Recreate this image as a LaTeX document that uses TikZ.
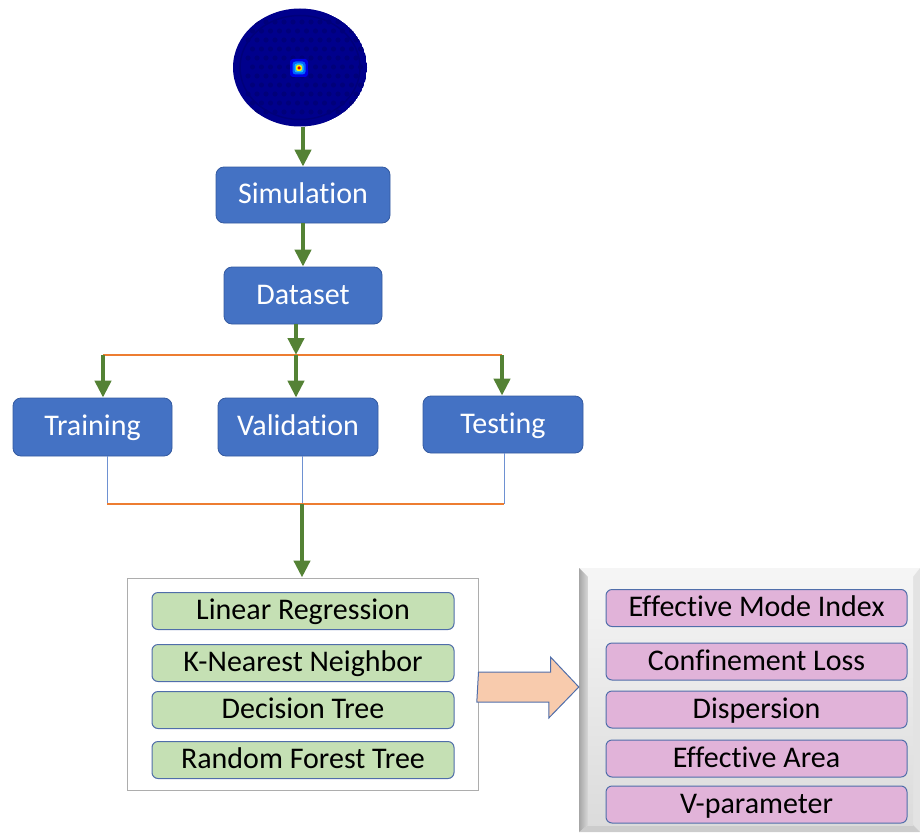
\documentclass[tikz,border=0pt]{standalone}
\usepackage{fontspec}
\setmainfont{Carlito}[Ligatures={NoCommon}]
\usetikzlibrary{arrows.meta,shapes.geometric,shapes.arrows}

\definecolor{boxblue}{RGB}{68,114,196}
\definecolor{boxedge}{RGB}{52,90,160}
\definecolor{flowgreen}{RGB}{84,130,53}
\definecolor{linkorange}{RGB}{237,125,49}
\definecolor{linkblue}{RGB}{110,145,210}
\definecolor{algofill}{RGB}{197,224,180}
\definecolor{outfill}{RGB}{225,179,217}
\definecolor{itemedge}{RGB}{80,110,170}
\definecolor{bigarrow}{RGB}{248,203,173}
\definecolor{fibreblue}{RGB}{0,0,140}
\definecolor{fibredot}{RGB}{0,0,122}

\tikzset{
  txt/.style={font=\fontsize{30}{34}\selectfont, text height=21pt, text depth=4pt},
  stage/.style={txt, draw=boxedge, line width=0.8pt, fill=boxblue, text=white,
    rounded corners=8pt, inner sep=0pt},
  algo/.style={txt, draw=itemedge, line width=1pt, fill=algofill, text=black,
    rounded corners=6pt, inner sep=0pt, minimum width=302, minimum height=37},
  result/.style={txt, draw=itemedge, line width=1pt, fill=outfill, text=black,
    rounded corners=6pt, inner sep=0pt, minimum width=301, minimum height=37},
  flow/.style={draw=flowgreen, line width=4.5pt,
    -{Triangle[length=17pt,width=16pt]}},
  splitline/.style={draw=linkorange, line width=1.4pt},
  mergeline/.style={draw=linkblue, line width=1pt},
}

\begin{document}
\begin{tikzpicture}[x=1pt,y=-1pt]
\useasboundingbox (0,0) rectangle (920,832);

% ---- fibre cross-section with guided mode ----
\begin{scope}
  \clip (300,67.5) ellipse [x radius=67, y radius=59];
  \fill[fibreblue] (300,67.5) ellipse [x radius=67, y radius=59];
  \foreach \r in {0,...,10}{
    \foreach \c in {0,...,12}{
      \pgfmathsetmacro{\xx}{248+\c*9+mod(\r,2)*4.5}
      \pgfmathsetmacro{\yy}{22+\r*9}
      \fill[fibredot] (\xx,\yy) circle (2.6);
    }
  }
  \draw[fibredot, line width=1.5pt] (300,67.5) ellipse [x radius=60, y radius=52];
\end{scope}
\node[ellipse, minimum width=134, minimum height=118, inner sep=0pt] (fibre) at (300,67.5) {};
\fill[blue!75!fibreblue, rounded corners=3pt] (290,59) rectangle (308,77);
\fill[blue!60!cyan, rounded corners=3pt] (292.5,61.5) rectangle (305.5,74.5);
\fill[cyan!85!white, rounded corners=2.5pt] (294.5,63.5) rectangle (303.5,72.5);
\fill[yellow, rounded corners=2pt] (296,65) rectangle (302,71);
\fill[red!85!black, rounded corners=1pt] (297.5,66.5) rectangle (300.5,69.5);

% ---- processing stages ----
\node[stage, minimum width=174, minimum height=56] (sim) at (303,195) {Simulation};
\node[stage, minimum width=158, minimum height=57] (data) at (303,295.5) {Dataset};
\node[stage, minimum width=159, minimum height=58] (train) at (92.5,427) {Training};
\node[stage, minimum width=160, minimum height=58] (valid) at (298,427) {Validation};
\node[stage, minimum width=160, minimum height=57] (test) at (503,424.5) {Testing};

% split and merge points
\coordinate (splitL) at (103,355);
\coordinate (splitM) at (296,355);
\coordinate (splitR) at (502,355);
\coordinate (mergeL) at (107,504);
\coordinate (mergeM) at (302,504);
\coordinate (mergeR) at (504,504);

\draw[flow] (fibre.south -| sim.north) -- (sim.north);
\draw[flow] (sim.south) -- (data.north);
\draw[splitline] (splitL) -- (splitR);
\draw[flow] (data.south -| splitM) -- (splitM);
\draw[flow] (splitL) -- (splitL |- train.north);
\draw[flow] (splitM) -- (splitM |- valid.north);
\draw[flow] (splitR) -- (splitR |- test.north);

\draw[mergeline] (train.south -| mergeL) -- (mergeL);
\draw[mergeline] (valid.south -| mergeM) -- (mergeM);
\draw[mergeline] (test.south -| mergeR) -- (mergeR);
\draw[splitline] (mergeL) -- (mergeR);

% ---- regression models ----
\node[draw=black!32, line width=1pt, fill=white, minimum width=351, minimum height=212,
  inner sep=0pt] (models) at (302.5,684) {};
\draw[flow] (mergeM) -- (mergeM |- models.north);
\node[algo] (lr) at (303,611) {Linear Regression};
\node[algo] (knn) at (303,663) {K-Nearest Neighbor};
\node[algo] (dt) at (303,710) {Decision Tree};
\node[algo] (rf) at (303,760) {Random Forest Tree};

% ---- predicted properties on a bevelled panel ----
\coordinate (pA) at (579,568);
\coordinate (pB) at (920,568);
\coordinate (pC) at (920,832);
\coordinate (pD) at (579,832);
\coordinate (qA) at (588,577);
\coordinate (qB) at (913,577);
\coordinate (qC) at (913,825);
\coordinate (qD) at (588,825);
\fill[black!4] (pA) -- (pB) -- (qB) -- (qA) -- cycle;
\fill[black!11] (pB) -- (pC) -- (qC) -- (qB) -- cycle;
\fill[black!20] (pC) -- (pD) -- (qD) -- (qC) -- cycle;
\shade[left color=black!35, right color=black!15] (pA) -- (qA) -- (qD) -- (pD) -- cycle;
\shade[top color=black!4, bottom color=black!14] (qA) rectangle (qC);
\node[minimum width=341, minimum height=264, inner sep=0pt] (panel) at (749.5,700) {};

\node[result] (neff) at (756.5,608) {Effective Mode Index};
\node[result] (loss) at (756.5,661.5) {Confinement Loss};
\node[result] (disp) at (756.5,709.5) {Dispersion};
\node[result] (area) at (756.5,758.5) {Effective Area};
\node[result] (vpar) at (756.5,804.5) {V-parameter};

% block arrow from models to properties
\coordinate (arrTail) at (models.east |- 0,687);
\coordinate (arrTip) at (panel.west |- 0,687);
\draw[draw=itemedge, line width=1pt, fill=bigarrow, line join=miter]
  (arrTail) ++(0,-15) -- ++(72,0) -- ++(0,-15) -- (arrTip)
  -- ++(-30,31) -- ++(0,-16) -- ++(-72,0) -- cycle;
\end{tikzpicture}
\end{document}
